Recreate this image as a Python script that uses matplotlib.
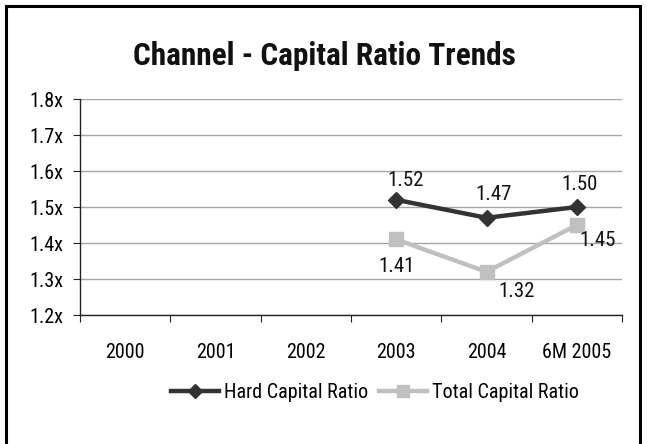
import numpy as np
import matplotlib
matplotlib.use("Agg")
import matplotlib.pyplot as plt
from matplotlib.lines import Line2D

plt.rcParams['font.family'] = ['Roboto Condensed', 'Archivo Narrow', 'PT Sans Narrow',
                               'Liberation Sans Narrow', 'DejaVu Sans']

categories = ["2000", "2001", "2002", "2003", "2004", "6M 2005"]
hard_capital = [np.nan, np.nan, np.nan, 1.52, 1.47, 1.50]
total_capital = [np.nan, np.nan, np.nan, 1.41, 1.32, 1.45]
y_ticks = [1.2, 1.3, 1.4, 1.5, 1.6, 1.7, 1.8]
y_tick_labels = ["1.2x", "1.3x", "1.4x", "1.5x", "1.6x", "1.7x", "1.8x"]

W, H = 647, 444
fig = plt.figure(figsize=(W / 100, H / 100), dpi=100)
ax = fig.add_axes([80 / W, 1 - 315 / H, (622 - 80) / W, (315 - 99) / H])

x = np.arange(len(categories)) + 0.5
dark = "#333333"
light = "#c0c0c0"

ax.plot(x, total_capital, color=light, lw=3.2, marker="s", ms=10, zorder=3)
ax.plot(x, hard_capital, color=dark, lw=3.2, marker="D", ms=8, zorder=4)

# value labels: (dx, dy) offsets in pixels
hard_offsets = {3: (9, 19), 4: (7, 23), 5: (3, 23)}
total_offsets = {3: (0, -27), 4: (30, -20), 5: (21, -15)}
for i, v in enumerate(hard_capital):
    if not np.isnan(v):
        dx, dy = hard_offsets[i]
        ax.annotate(f"{v:.2f}", (x[i], v), xytext=(dx, dy), textcoords="offset pixels",
                    ha="center", va="center", fontsize=15, color="#111111")
for i, v in enumerate(total_capital):
    if not np.isnan(v):
        dx, dy = total_offsets[i]
        ax.annotate(f"{v:.2f}", (x[i], v), xytext=(dx, dy), textcoords="offset pixels",
                    ha="center", va="center", fontsize=15, color="#111111")

ax.set_xlim(0, len(categories))
ax.set_ylim(1.2, 1.8)
ax.set_yticks(y_ticks)
ax.set_yticklabels(y_tick_labels, fontsize=14.5)
ax.yaxis.grid(True, color="#a6a6a6", lw=1)
ax.set_axisbelow(True)

ax.set_xticks(np.arange(len(categories) + 1))
ax.set_xticklabels([])
ax.set_xticks(x, minor=True)
ax.set_xticklabels(categories, minor=True, fontsize=14.5)
ax.tick_params(axis="x", which="major", length=5, direction="out", color="#222222")
ax.tick_params(axis="x", which="minor", length=0, pad=20)
ax.tick_params(axis="y", length=5, color="#222222", pad=7)

for s in ["top", "right"]:
    ax.spines[s].set_visible(False)
for s in ["left", "bottom"]:
    ax.spines[s].set_color("#222222")
    ax.spines[s].set_linewidth(1)

fig.text(324 / W, 1 - 56 / H, "Channel - Capital Ratio Trends", ha="center", va="center",
         fontsize=22.5, fontweight="bold", color="#111111")

handles = [
    Line2D([], [], color=dark, lw=3.2, marker="D", ms=7),
    Line2D([], [], color=light, lw=3.2, marker="s", ms=8.5),
]
fig.legend(handles, ["Hard Capital Ratio", "Total Capital Ratio"], loc="center",
           bbox_to_anchor=(375 / W, 1 - 393 / H), ncol=2, frameon=False, fontsize=14.5,
           handlelength=2.4, handletextpad=0.25, columnspacing=0.5)

# outer frame
fig.add_artist(Line2D([6 / W, 6 / W, 640 / W, 640 / W], [-0.1, 1 - 6 / H, 1 - 6 / H, -0.1],
                      transform=fig.transFigure, color="black", lw=2.2, solid_joinstyle="miter"))

fig.savefig("out.png", dpi=100)
